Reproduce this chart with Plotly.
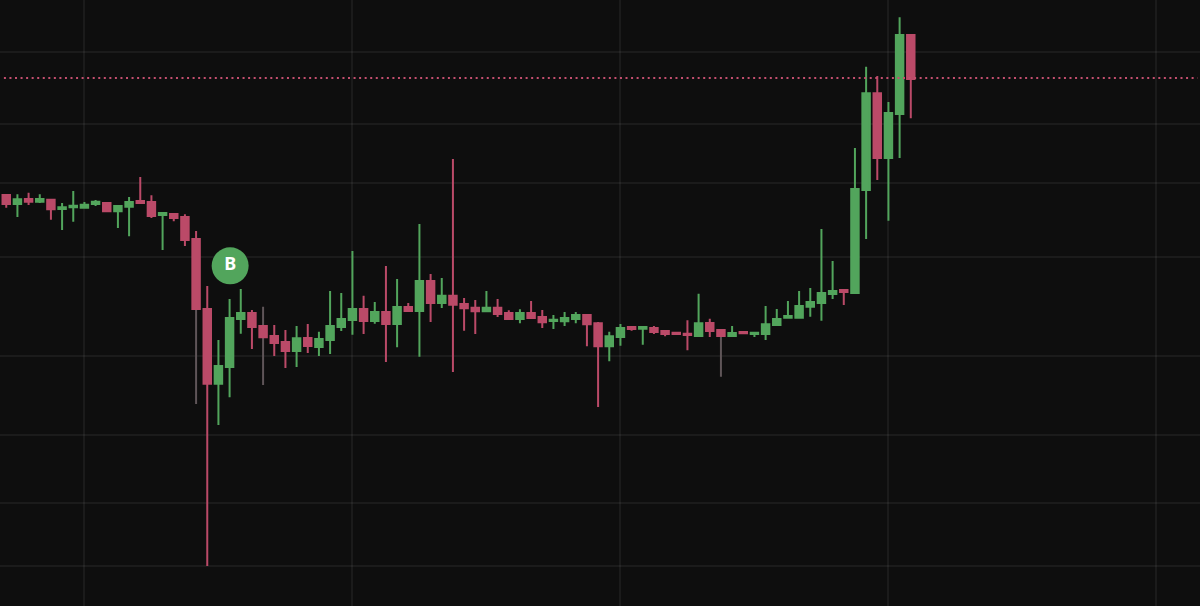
import plotly.graph_objects as go

# Hourly candles: one day between vertical grid lines
hours = list(range(82))
opens = [41.1, 40.2, 40.7, 40.43, 40.63, 39.7, 39.87, 39.83, 40.2, 40.3,
         39.47, 39.93, 40.5, 40.4, 39.1, 39.2, 38.9, 36.7, 29.7, 22.23,
         23.9, 28.7, 29.3, 28.0, 27.0, 26.4, 25.5, 26.8, 25.9, 26.6,
         27.9, 28.6, 29.7, 28.5, 29.4, 28.2, 29.9, 29.5, 32.5, 30.3,
         31.03, 30.2, 29.83, 29.47, 29.83, 29.3, 28.7, 29.3, 28.9, 28.5,
         28.47, 28.7, 29.1, 28.27, 25.97, 26.9, 27.9, 27.73, 27.8, 27.5,
         27.33, 27.23, 27.0, 28.3, 27.6, 27.0, 27.4, 27.2, 27.2, 28.1,
         28.83, 28.83, 29.93, 30.3, 31.2, 31.6, 31.3, 41.6, 51.27, 44.8,
         49.2, 57.1]
highs = [41.1, 41.17, 41.33, 41.17, 40.63, 40.3, 41.5, 40.4, 40.6, 40.3,
         40.0, 40.9, 42.9, 41.07, 39.3, 39.3, 39.17, 37.5, 32.0, 26.6,
         30.7, 31.7, 29.6, 28.0, 28.1, 27.6, 28.0, 28.2, 27.43, 31.5,
         31.3, 35.5, 31.03, 30.4, 34.0, 32.7, 30.3, 38.2, 33.2, 32.8,
         44.7, 30.8, 30.6, 31.5, 30.7, 29.57, 29.67, 30.5, 29.6, 29.1,
         29.4, 29.4, 29.2, 28.4, 27.43, 28.2, 28.0, 27.9, 28.0, 27.5,
         27.33, 28.57, 31.23, 28.73, 27.6, 28.0, 27.4, 27.33, 30.0, 29.7,
         30.5, 31.5, 31.8, 37.7, 34.5, 31.6, 45.8, 53.93, 53.0, 50.4,
         58.87, 57.1]
lows = [39.83, 38.9, 40.1, 40.3, 38.63, 37.6, 38.43, 39.83, 40.0, 39.47,
        37.8, 36.97, 40.3, 38.8, 35.6, 38.47, 36.0, 29.7, 4.0, 18.1,
        20.87, 27.23, 25.7, 26.87, 25.0, 23.8, 23.9, 25.3, 25.0, 25.2,
        27.5, 27.13, 27.2, 28.23, 24.4, 25.87, 29.5, 24.93, 28.4, 29.8,
        23.4, 27.53, 27.2, 29.47, 28.9, 28.6, 28.27, 28.7, 27.8, 27.7,
        28.0, 28.27, 25.97, 19.9, 24.47, 26.03, 27.53, 26.13, 27.2, 26.97,
        27.1, 25.57, 27.0, 26.9, 27.0, 27.0, 27.17, 26.9, 26.6, 28.1,
        28.83, 28.83, 28.93, 28.53, 30.7, 30.1, 31.3, 36.7, 42.6, 38.53,
        44.8, 48.77]
closes = [40.2, 40.67, 40.43, 40.7, 39.67, 39.87, 40.03, 40.13, 40.43, 39.47,
          40.0, 40.4, 40.3, 39.0, 39.3, 38.8, 36.6, 29.7, 22.23, 24.0,
          28.8, 29.3, 27.9, 26.87, 26.3, 25.5, 26.77, 26.0, 26.7, 28.0,
          28.7, 29.7, 28.5, 29.4, 28.2, 29.9, 29.5, 32.5, 30.3, 31.03,
          30.13, 29.77, 29.47, 29.83, 29.2, 28.7, 29.3, 28.8, 28.37, 28.63,
          28.8, 29.1, 28.17, 25.97, 26.97, 27.8, 27.7, 27.9, 27.4, 27.2,
          27.2, 27.1, 28.27, 27.5, 27.0, 27.3, 27.27, 27.33, 28.17, 28.7,
          29.0, 30.0, 30.4, 31.3, 31.5, 31.4, 41.7, 51.27, 44.8, 49.3,
          57.1, 52.7]

# Three candles whose wicks are drawn muted behind the main series
muted_hours = [17, 23, 64]
muted_mid = [33.0, 27.4, 27.3]
muted_highs = [33.0, 29.93, 27.3]
muted_lows = [20.2, 22.1, 22.93]

grid_hours = [7, 31, 55, 79, 103]
grid_prices = [55.4, 48.2, 42.3, 34.9, 25.0, 17.1, 10.3, 4.0]

last_price = 52.8
price_line_span = [-0.21, 106.67]
buy_marker_hour = 20.05
buy_marker_price = 34.02
buy_marker_label = "B"

GREEN = "#52a55c"
RED = "#bb4a68"
MUTED = "#5f5558"
BACKGROUND = "#0e0e0e"
GRID = "rgba(255,255,255,0.055)"
WICK_WIDTH = 2

fig = go.Figure()

fig.add_trace(go.Candlestick(
    x=muted_hours, open=muted_mid, high=muted_highs, low=muted_lows, close=muted_mid,
    increasing=dict(line=dict(color=MUTED, width=WICK_WIDTH), fillcolor=MUTED),
    decreasing=dict(line=dict(color=MUTED, width=WICK_WIDTH), fillcolor=MUTED),
    whiskerwidth=0, showlegend=False, hoverinfo="skip",
))

fig.add_trace(go.Candlestick(
    x=hours, open=opens, high=highs, low=lows, close=closes,
    increasing=dict(line=dict(color=GREEN, width=WICK_WIDTH), fillcolor=GREEN),
    decreasing=dict(line=dict(color=RED, width=WICK_WIDTH), fillcolor=RED),
    whiskerwidth=0, showlegend=False,
))

# Dotted line at the latest price
fig.add_trace(go.Scatter(
    x=price_line_span, y=[last_price, last_price], mode="lines",
    line=dict(color="#c44f6f", width=2, dash="2px,3.55px"),
    showlegend=False, hoverinfo="skip",
))

# Buy signal badge
fig.add_trace(go.Scatter(
    x=[buy_marker_hour], y=[buy_marker_price], mode="markers+text",
    marker=dict(size=37, color=GREEN, line=dict(width=0)),
    text=[buy_marker_label], textposition="middle center",
    textfont=dict(family="Noto Sans", size=18, color="white", weight="bold"),
    showlegend=False, hoverinfo="skip",
))

fig.update_layout(
    width=1200, height=606,
    margin=dict(l=0, r=0, t=0, b=0),
    paper_bgcolor=BACKGROUND, plot_bgcolor=BACKGROUND,
    boxgap=0.33, boxgroupgap=0,
    showlegend=False,
    xaxis=dict(
        range=[-0.56, 106.90], rangeslider=dict(visible=False),
        tickmode="array", tickvals=grid_hours, showticklabels=False, ticks="",
        showgrid=True, gridcolor=GRID, gridwidth=2, zeroline=False, showline=False,
    ),
    yaxis=dict(
        range=[0, 60.6],
        tickmode="array", tickvals=grid_prices, showticklabels=False, ticks="",
        showgrid=True, gridcolor=GRID, gridwidth=2, zeroline=False, showline=False,
    ),
)

fig.write_html("out.html", config=dict(displayModeBar=False))
